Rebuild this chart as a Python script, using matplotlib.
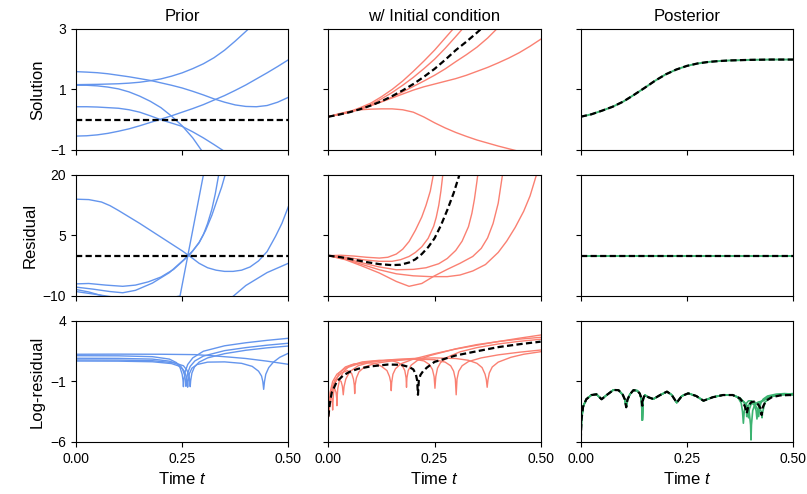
import matplotlib
matplotlib.use("Agg")
import matplotlib.pyplot as plt

plt.rcParams['font.family'] = ['Liberation Sans', 'DejaVu Sans']
plt.rcParams['mathtext.fontset'] = 'custom'
plt.rcParams['mathtext.it'] = 'Liberation Sans:italic'
plt.rcParams['mathtext.rm'] = 'Liberation Sans'

BLUE = '#6495ED'
RED = '#FA8072'
GREEN = '#3CB371'

col_titles = ['Prior', 'w/ Initial condition', 'Posterior']
row_labels = ['Solution', 'Residual', 'Log-residual']
row_limits = [(-1, 3), (-10, 20), (-6, 4)]
row_ticks = [[-1, 1, 3], [-10, 5, 20], [-6, -1, 4]]
x_ticks = [0, 0.25, 0.5]
x_ticklabels = ['0.00', '0.25', '0.50']

# ---- row 1: solution ----
sol_t = [0, 0.025, 0.05, 0.075, 0.1, 0.125, 0.15, 0.175, 0.2, 0.225, 0.25,
         0.275, 0.3, 0.325, 0.35, 0.375, 0.4, 0.425, 0.45, 0.475, 0.5]

prior_sol_1 = [1.59, 1.575, 1.555, 1.52, 1.47, 1.42, 1.36, 1.30, 1.22, 1.14, 1.05,
               0.94, 0.82, 0.69, 0.58, 0.49, 0.44, 0.43, 0.47, 0.58, 0.74]
prior_sol_2 = [1.16, 1.165, 1.17, 1.18, 1.19, 1.21, 1.24, 1.29, 1.35, 1.44, 1.55,
               1.69, 1.85, 2.05, 2.3, 2.6, 2.92, 3.25, 3.6, 4.0, 4.4]
prior_sol_3 = [1.14, 1.14, 1.12, 1.08, 1.02, 0.92, 0.78, 0.61, 0.40, 0.12, -0.20,
               -0.6, -1.1, -1.6, -2.2, -2.8, -3.4, -4.0, -4.6, -5.2, -5.8]
prior_sol_4 = [0.43, 0.43, 0.42, 0.40, 0.38, 0.33, 0.25, 0.13, 0.0, -0.11, -0.22,
               -0.4, -0.6, -0.82, -1.05, -1.28, -1.5, -1.75, -2.0, -2.25, -2.5]
prior_sol_5 = [-0.54, -0.53, -0.5, -0.45, -0.38, -0.3, -0.2, -0.09, 0.02, 0.13, 0.25,
               0.37, 0.5, 0.65, 0.8, 0.97, 1.15, 1.35, 1.55, 1.76, 1.98]
prior_sol_mean = [0] * 21

ic_sol_1 = [0.1, 0.18, 0.27, 0.4, 0.55, 0.76, 1.0, 1.28, 1.6, 1.94, 2.3,
            2.7, 3.1, 3.55, 4.0, 4.5, 5.0, 5.5, 6.0, 6.5, 7.0]
ic_sol_2 = [0.1, 0.18, 0.26, 0.37, 0.5, 0.69, 0.9, 1.14, 1.4, 1.69, 2.0,
            2.36, 2.75, 3.15, 3.6, 4.0, 4.5, 5.0, 5.5, 6.0, 6.5]
ic_sol_3 = [0.1, 0.17, 0.25, 0.35, 0.47, 0.6, 0.75, 0.92, 1.1, 1.28, 1.47,
            1.68, 1.92, 2.15, 2.4, 2.7, 3.05, 3.4, 3.8, 4.2, 4.6]
ic_sol_4 = [0.1, 0.17, 0.25, 0.35, 0.47, 0.59, 0.72, 0.85, 0.98, 1.09, 1.18,
            1.27, 1.36, 1.47, 1.6, 1.73, 1.88, 2.04, 2.22, 2.43, 2.66]
ic_sol_5 = [0.1, 0.2, 0.28, 0.33, 0.35, 0.36, 0.36, 0.33, 0.25, 0.09, -0.1,
            -0.27, -0.42, -0.55, -0.67, -0.77, -0.87, -0.96, -1.05, -1.13, -1.2]
ic_sol_mean = [0.1, 0.17, 0.25, 0.35, 0.47, 0.61, 0.78, 0.97, 1.18, 1.42, 1.68,
               1.98, 2.3, 2.58, 2.88, 3.2, 3.55, 3.9, 4.2, 4.6, 5.0]

post_sol = [0.10, 0.18, 0.30, 0.43, 0.60, 0.82, 1.05, 1.29, 1.50, 1.66, 1.78,
            1.86, 1.91, 1.94, 1.96, 1.97, 1.98, 1.985, 1.99, 1.99, 1.99]

# ---- row 2: residual ----
res_prior_1_t = [0, 0.03, 0.06, 0.08, 0.1, 0.125, 0.15, 0.175, 0.2, 0.225, 0.25, 0.27,
                 0.29, 0.31, 0.33, 0.35, 0.37, 0.39, 0.41, 0.43, 0.45, 0.47, 0.485, 0.5]
res_prior_1_y = [14, 13.9, 13.3, 12.4, 11.2, 9.6, 8.0, 6.3, 4.6, 2.9, 1.2, -0.3,
                 -1.9, -3.0, -3.6, -3.9, -3.9, -3.6, -2.8, -1.3, 1.0, 4.8, 8.0, 12.1]
res_prior_2_t = [0, 0.03, 0.06, 0.08, 0.15, 0.245, 0.3]
res_prior_2_y = [-8.4, -9.0, -9.9, -10.6, -12, -10, 20]
res_prior_3_t = [0, 0.03, 0.07, 0.11, 0.14, 0.17, 0.2, 0.23, 0.255, 0.27, 0.29,
                 0.3, 0.31, 0.32, 0.328, 0.336]
res_prior_3_y = [-7.0, -6.9, -7.3, -7.6, -7.3, -6.5, -5.3, -3.4, -1.0, 0.5, 3.2,
                 5.2, 8.0, 11.5, 15.3, 20]
res_prior_4_t = [0, 0.04, 0.08, 0.11, 0.14, 0.18, 0.22, 0.255, 0.275, 0.29, 0.305,
                 0.32, 0.333, 0.343, 0.352]
res_prior_4_y = [-7.8, -8.3, -8.9, -9.2, -8.6, -6.8, -4.2, -0.9, 1.2, 3.3, 6.2,
                 10.0, 14.0, 17.0, 20.3]
res_prior_5_t = [0, 0.04, 0.09, 0.2, 0.33, 0.371, 0.4, 0.45, 0.5]
res_prior_5_y = [-8.9, -9.5, -10.3, -13, -13, -10, -7.4, -4.2, -1.9]

res_ic_mean_t = [0, 0.03, 0.06, 0.09, 0.12, 0.15, 0.17, 0.19, 0.205, 0.22, 0.235,
                 0.25, 0.265, 0.28, 0.295, 0.31]
res_ic_mean_y = [0, -0.4, -1.0, -1.6, -2.1, -2.35, -2.25, -1.7, -0.9, 0.4, 2.1,
                 4.3, 7.5, 11.3, 15.5, 20.5]
res_ic_1_t = [0, 0.03, 0.06, 0.09, 0.12, 0.14, 0.16, 0.175, 0.19, 0.205, 0.22,
              0.23, 0.24, 0.248]
res_ic_1_y = [0, 0.1, -0.1, -0.4, -0.6, -0.4, 0.4, 1.6, 3.5, 6.3, 9.6,
              12.5, 16.0, 20.5]
res_ic_2_t = [0, 0.04, 0.08, 0.12, 0.15, 0.17, 0.19, 0.205, 0.22, 0.235, 0.248,
              0.254, 0.26, 0.265, 0.27]
res_ic_2_y = [0, -0.4, -1.0, -1.4, -1.4, -1.0, -0.2, 0.8, 2.2, 4.3, 7.3,
              9.5, 12.5, 16.0, 20.5]
res_ic_3_t = [0, 0.04, 0.08, 0.12, 0.16, 0.2, 0.23, 0.26, 0.28, 0.3, 0.315,
              0.33, 0.338, 0.344, 0.35, 0.353]
res_ic_3_y = [0, -0.7, -1.8, -2.8, -3.5, -3.4, -3.0, -2.0, -0.7, 1.3, 3.6,
              7.2, 10.5, 14.0, 18.5, 21.0]
res_ic_4_t = [0, 0.04, 0.08, 0.12, 0.16, 0.19, 0.22, 0.25, 0.28, 0.31, 0.34,
              0.36, 0.375, 0.388, 0.4, 0.41]
res_ic_4_y = [0, -1.0, -2.6, -4.3, -6.4, -7.6, -6.9, -5.0, -3.4, -1.9, -0.2,
              1.8, 4.4, 8.0, 13.0, 20.0]
res_ic_5_t = [0, 0.04, 0.08, 0.12, 0.16, 0.2, 0.24, 0.28, 0.31, 0.34, 0.37,
              0.4, 0.42, 0.44, 0.46, 0.475, 0.49]
res_ic_5_y = [0, -0.9, -2.2, -3.5, -4.5, -5.0, -5.2, -5.2, -4.8, -3.8, -2.2,
              0.8, 3.6, 7.0, 11.0, 14.8, 20.0]

flat_t = [0, 0.5]
flat_y = [0, 0]

# ---- row 3: log-residual ----
log_prior_1_t = [0, 0.1, 0.2, 0.28, 0.32, 0.36, 0.4, 0.45, 0.5]
log_prior_1_y = [1.25, 1.26, 1.25, 1.22, 1.13, 1.02, 0.9, 0.68, 0.42]
log_prior_2_t = [0, 0.1, 0.18, 0.22, 0.237, 0.245, 0.25, 0.252, 0.253, 0.254, 0.257, 0.263,
                 0.275, 0.3, 0.35, 0.4, 0.45, 0.5]
log_prior_2_y = [1.13, 1.12, 1.05, 0.85, 0.55, 0.15, -0.4, -0.9, -1.43, -0.9, -0.2, 0.4,
                 0.95, 1.5, 1.95, 2.2, 2.4, 2.57]
log_prior_3_t = [0, 0.1, 0.18, 0.22, 0.243, 0.251, 0.256, 0.258, 0.259, 0.26, 0.263, 0.269,
                 0.28, 0.3, 0.35, 0.4, 0.45, 0.5]
log_prior_3_y = [0.92, 0.91, 0.85, 0.68, 0.4, 0.0, -0.5, -0.95, -1.4, -0.95, -0.3, 0.25,
                 0.7, 1.1, 1.55, 1.8, 2.0, 2.16]
log_prior_4_t = [0, 0.1, 0.18, 0.23, 0.253, 0.261, 0.266, 0.268, 0.269, 0.27, 0.273, 0.279,
                 0.29, 0.31, 0.35, 0.4, 0.45, 0.5]
log_prior_4_y = [0.78, 0.77, 0.72, 0.55, 0.3, -0.05, -0.5, -0.95, -1.43, -0.95, -0.3, 0.2,
                 0.6, 0.95, 1.3, 1.58, 1.78, 1.93]
log_prior_5_t = [0, 0.1, 0.18, 0.225, 0.247, 0.255, 0.26, 0.262, 0.263, 0.264, 0.267, 0.273,
                 0.285, 0.31, 0.35, 0.39, 0.415, 0.43, 0.437, 0.44, 0.442, 0.444, 0.447,
                 0.454, 0.465, 0.48, 0.5]
log_prior_5_y = [0.69, 0.68, 0.63, 0.48, 0.22, -0.15, -0.6, -1.0, -1.47, -1.0, -0.35, 0.1,
                 0.4, 0.6, 0.62, 0.5, 0.25, -0.15, -0.55, -1.0, -1.65, -1.0, -0.4,
                 0.15, 0.6, 1.0, 1.33]

log_ic_mean_t = [0, 0.003, 0.008, 0.02, 0.035, 0.05, 0.07, 0.1, 0.14, 0.17, 0.19, 0.2, 0.206,
                 0.209, 0.211, 0.213, 0.217, 0.223, 0.232, 0.25, 0.3, 0.35, 0.4, 0.45, 0.5]
log_ic_mean_y = [-3.9, -2.9, -1.9, -1.0, -0.5, -0.2, 0.05, 0.25, 0.4, 0.38, 0.2, 0.0, -0.4,
                 -0.9, -2.1, -0.9, -0.45, -0.15, 0.15, 0.62, 1.15, 1.5, 1.84, 2.08, 2.29]
log_ic_1_t = [0, 0.003, 0.006, 0.008, 0.0095, 0.010, 0.0105, 0.012, 0.016, 0.025,
              0.04, 0.06, 0.09, 0.11, 0.125, 0.138, 0.144, 0.147, 0.148, 0.149,
              0.152, 0.158, 0.17, 0.2, 0.25, 0.3, 0.35, 0.4, 0.45, 0.5]
log_ic_1_y = [-3.9, -2.6, -2.2, -2.4, -2.9, -3.36, -2.9, -2.0, -1.1, -0.3,
              0.2, 0.45, 0.55, 0.5, 0.25, -0.1, -0.6, -1.1, -1.76, -1.1,
              -0.4, 0.05, 0.45, 0.85, 1.3, 1.68, 2.0, 2.3, 2.58, 2.84]
log_ic_2_t = [0, 0.004, 0.01, 0.015, 0.018, 0.0195, 0.020, 0.0205, 0.022, 0.026,
              0.035, 0.05, 0.08, 0.12, 0.15, 0.165, 0.175, 0.18, 0.183, 0.184,
              0.185, 0.188, 0.195, 0.21, 0.24, 0.3, 0.35, 0.4, 0.45, 0.5]
log_ic_2_y = [-3.9, -2.5, -1.7, -1.6, -1.9, -2.4, -3.0, -2.4, -1.6, -0.9,
              -0.2, 0.3, 0.62, 0.75, 0.72, 0.55, 0.25, -0.1, -0.7, -1.48,
              -0.7, -0.1, 0.35, 0.75, 1.15, 1.7, 2.05, 2.3, 2.5, 2.65]
log_ic_3_t = [0, 0.005, 0.012, 0.022, 0.03, 0.033, 0.035, 0.037, 0.041, 0.05,
              0.07, 0.1, 0.15, 0.2, 0.225, 0.238, 0.245, 0.249, 0.251, 0.253,
              0.257, 0.264, 0.28, 0.31, 0.35, 0.4, 0.45, 0.5]
log_ic_3_y = [-3.9, -2.2, -1.2, -0.8, -1.0, -1.4, -2.1, -1.4, -0.8, -0.2,
              0.3, 0.6, 0.8, 0.85, 0.7, 0.4, 0.0, -0.6, -1.56, -0.6,
              0.1, 0.55, 1.0, 1.45, 1.8, 2.1, 2.32, 2.49]
log_ic_4_t = [0, 0.005, 0.015, 0.03, 0.045, 0.055, 0.059, 0.061, 0.062, 0.063,
              0.066, 0.072, 0.085, 0.11, 0.15, 0.2, 0.25, 0.275, 0.288, 0.295,
              0.299, 0.301, 0.303, 0.307, 0.315, 0.33, 0.36, 0.4, 0.45, 0.5]
log_ic_4_y = [-3.9, -2.0, -0.9, -0.3, -0.1, -0.35, -0.8, -1.3, -2.0, -1.3,
              -0.7, -0.2, 0.2, 0.5, 0.7, 0.85, 0.8, 0.6, 0.3, -0.15,
              -0.8, -2.1, -0.8, -0.15, 0.3, 0.65, 0.95, 1.2, 1.42, 1.6]
log_ic_5_t = [0, 0.004, 0.01, 0.02, 0.04, 0.07, 0.1, 0.15, 0.2, 0.25,
              0.3, 0.33, 0.35, 0.362, 0.369, 0.372, 0.374, 0.376, 0.379, 0.386,
              0.4, 0.43, 0.46, 0.5]
log_ic_5_y = [-3.9, -1.9, -1.0, -0.4, 0.1, 0.45, 0.65, 0.8, 0.9, 0.95,
              0.9, 0.75, 0.5, 0.15, -0.4, -0.85, -1.48, -0.85, -0.3, 0.2,
              0.6, 1.0, 1.25, 1.46]

log_post_head_t = [0, 0.0016, 0.0055, 0.013, 0.025, 0.037, 0.049, 0.061, 0.077, 0.089,
                   0.099, 0.104, 0.107, 0.11, 0.116, 0.124, 0.133, 0.139, 0.143, 0.145,
                   0.147, 0.151, 0.159, 0.171, 0.187, 0.203, 0.214, 0.226, 0.238, 0.253,
                   0.272, 0.289, 0.311, 0.335, 0.358]
log_post_mean_head = [-5.83, -4.18, -3.08, -2.47, -2.12, -2.06, -2.47, -2.12, -1.70, -1.72,
                      -2.1, -2.5, -3.13, -2.5, -2.05, -1.72, -1.76, -2.0, -2.4, -3.0,
                      -2.4, -2.12, -2.3, -2.45, -2.12, -1.84, -2.1, -2.75, -2.2, -1.98,
                      -2.2, -2.59, -2.3, -2.12, -2.12]
log_post_green_head = [-5.83, -4.18, -3.08, -2.47, -2.12, -2.06, -2.47, -2.12, -1.70, -1.72,
                       -2.1, -2.5, -3.13, -2.5, -2.05, -1.72, -1.76, -2.0, -2.5, -4.2,
                       -2.5, -2.12, -2.3, -2.45, -2.12, -1.84, -2.1, -2.75, -2.2, -1.98,
                       -2.2, -2.59, -2.3, -2.12, -2.12]
log_post_mean_tail_t = [0.375, 0.383, 0.387, 0.391, 0.395, 0.402, 0.41, 0.418, 0.423, 0.426,
                        0.429, 0.436, 0.45, 0.47, 0.493, 0.5]
log_post_mean_tail_y = [-2.4, -2.8, -3.1, -3.63, -3.0, -2.7, -2.65, -2.9, -3.2, -3.77,
                        -3.1, -2.6, -2.3, -2.15, -2.12, -2.15]
log_post_g1_t = [0.37, 0.378, 0.381, 0.383, 0.385, 0.388, 0.395, 0.402, 0.41, 0.416, 0.419,
                 0.421, 0.424, 0.43, 0.44, 0.46, 0.48, 0.5]
log_post_g1_y = [-2.3, -2.8, -3.5, -4.45, -3.5, -2.9, -2.6, -2.6, -2.85, -3.3, -3.9,
                 -3.3, -2.8, -2.45, -2.2, -2.05, -2.0, -2.05]
log_post_g2_t = [0.372, 0.385, 0.392, 0.397, 0.4, 0.401, 0.402, 0.405, 0.41, 0.418, 0.43,
                 0.44, 0.46, 0.48, 0.5]
log_post_g2_y = [-2.35, -2.7, -3.0, -3.6, -4.6, -5.83, -4.6, -3.4, -2.9, -2.7, -2.6,
                 -2.35, -2.1, -2.05, -2.1]
log_post_g3_t = [0.375, 0.385, 0.393, 0.395, 0.397, 0.402, 0.408, 0.413, 0.415, 0.417, 0.421,
                 0.43, 0.445, 0.47, 0.5]
log_post_g3_y = [-2.4, -2.75, -3.3, -4.0, -3.3, -2.8, -2.9, -3.4, -4.1, -3.4, -2.8,
                 -2.5, -2.25, -2.1, -2.0]
log_post_g4_t = [0.375, 0.385, 0.39, 0.391, 0.392, 0.398, 0.41, 0.42, 0.426, 0.427, 0.428,
                 0.434, 0.45, 0.47, 0.5]
log_post_g4_y = [-2.35, -2.75, -3.2, -3.9, -3.2, -2.8, -2.7, -3.0, -3.6, -4.0, -3.6,
                 -2.7, -2.25, -2.1, -2.1]


fig, axes = plt.subplots(3, 3, figsize=(8.07, 4.94), dpi=100, sharex=True)
fig.subplots_adjust(left=0.0942, right=0.9827, top=0.9413, bottom=0.1053,
                    wspace=0.189, hspace=0.2066)

LW = 1.0
DASH = dict(color='black', lw=1.6, dashes=(2.8, 1.5))


def draw(ax, t, y, color):
    ax.plot(t, y, color=color, lw=LW)


# solution row
ax = axes[0, 0]
for y in [prior_sol_1, prior_sol_2, prior_sol_3, prior_sol_4, prior_sol_5]:
    draw(ax, sol_t, y, BLUE)
ax.plot(sol_t, prior_sol_mean, **DASH)

ax = axes[0, 1]
for y in [ic_sol_1, ic_sol_2, ic_sol_3, ic_sol_4, ic_sol_5]:
    draw(ax, sol_t, y, RED)
ax.plot(sol_t, ic_sol_mean, **DASH)

ax = axes[0, 2]
ax.plot(sol_t, post_sol, color=GREEN, lw=1.4)
ax.plot(sol_t, post_sol, **DASH)

# residual row
ax = axes[1, 0]
for t, y in [(res_prior_1_t, res_prior_1_y), (res_prior_2_t, res_prior_2_y),
             (res_prior_3_t, res_prior_3_y), (res_prior_4_t, res_prior_4_y),
             (res_prior_5_t, res_prior_5_y)]:
    draw(ax, t, y, BLUE)
ax.plot(flat_t, flat_y, **DASH)

ax = axes[1, 1]
for t, y in [(res_ic_1_t, res_ic_1_y), (res_ic_2_t, res_ic_2_y), (res_ic_3_t, res_ic_3_y),
             (res_ic_4_t, res_ic_4_y), (res_ic_5_t, res_ic_5_y)]:
    draw(ax, t, y, RED)
ax.plot(res_ic_mean_t, res_ic_mean_y, **DASH)

ax = axes[1, 2]
ax.plot(flat_t, flat_y, color=GREEN, lw=1.4)
ax.plot(flat_t, flat_y, **DASH)

# log-residual row
ax = axes[2, 0]
for t, y in [(log_prior_1_t, log_prior_1_y), (log_prior_2_t, log_prior_2_y),
             (log_prior_3_t, log_prior_3_y), (log_prior_4_t, log_prior_4_y),
             (log_prior_5_t, log_prior_5_y)]:
    draw(ax, t, y, BLUE)

ax = axes[2, 1]
for t, y in [(log_ic_1_t, log_ic_1_y), (log_ic_2_t, log_ic_2_y), (log_ic_3_t, log_ic_3_y),
             (log_ic_4_t, log_ic_4_y), (log_ic_5_t, log_ic_5_y)]:
    draw(ax, t, y, RED)
ax.plot(log_ic_mean_t, log_ic_mean_y, **DASH)

ax = axes[2, 2]
for t, y in [(log_post_g1_t, log_post_g1_y), (log_post_g2_t, log_post_g2_y),
             (log_post_g3_t, log_post_g3_y), (log_post_g4_t, log_post_g4_y)]:
    ax.plot(log_post_head_t + t, log_post_green_head + y, color=GREEN, lw=1.2)
ax.plot(log_post_head_t + log_post_mean_tail_t, log_post_mean_head + log_post_mean_tail_y, **DASH)

for i in range(3):
    for j in range(3):
        ax = axes[i, j]
        ax.set_xlim(0, 0.5)
        ax.set_ylim(*row_limits[i])
        ax.set_yticks(row_ticks[i])
        ax.set_xticks(x_ticks)
        ax.tick_params(labelsize=10)
        if j == 0:
            ax.set_ylabel(row_labels[i], fontsize=12)
        else:
            ax.tick_params(labelleft=False)
        if i == 0:
            ax.set_title(col_titles[j], fontsize=12)
        if i == 2:
            ax.set_xticklabels(x_ticklabels)
            ax.set_xlabel('Time $t$', fontsize=12)

fig.savefig('out.png', dpi=100)
